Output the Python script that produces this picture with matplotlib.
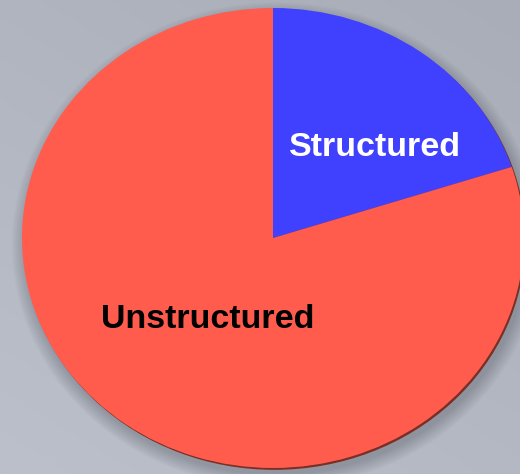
import numpy as np
import matplotlib
matplotlib.use("Agg")
import matplotlib.pyplot as plt
from matplotlib.patches import Ellipse

categories = ["Structured", "Unstructured"]
values = [20, 80]
colors = ["#4040FF", "#FF5C4E"]
text_colors = ["white", "black"]

W, H = 520, 474
cx, cy = 273, 238
rx, ry = 251, 230

fig = plt.figure(figsize=(W / 100, H / 100), dpi=100)
ax = fig.add_axes([0, 0, 1, 1])

# background gradient
yy, xx = np.mgrid[0:1:200j, 0:1:200j]
top = np.array([168, 173, 184]) / 255
bot = np.array([188, 192, 202]) / 255
t = np.clip(0.6 * yy + 0.4 * (1 - xx), 0, 1)[..., None]
bg = top * (1 - t) + bot * t
xl = (-cx / rx, (W - cx) / rx)
yl = ((cy - H) / ry, cy / ry)
ax.imshow(bg, extent=[xl[0], xl[1], yl[0], yl[1]], origin="upper", zorder=0, aspect="auto")

# soft shadow
for i in range(12):
    s = 1.0 + 0.005 * i
    ax.add_patch(Ellipse((0.015, -0.03), 2 * s, 2 * s, facecolor="#505560",
                         alpha=0.03, edgecolor="none", zorder=1))
# dark rim
ax.add_patch(Ellipse((0.006, -0.008), 2.0, 2.0, facecolor="#7a2e24", edgecolor="none", zorder=2))

wedges, texts = ax.pie(values, colors=colors, startangle=90, counterclock=False,
                       radius=1.0, center=(0, 0), labels=categories,
                       labeldistance=0.6,
                       wedgeprops=dict(edgecolor="none", zorder=3),
                       textprops=dict(fontsize=24.5, fontweight="bold",
                                      family=["Liberation Sans", "DejaVu Sans"]))
for w in wedges:
    w.set_zorder(3)
label_pos = [(375, 148), (208, 320)]
for txt, (px, py), c in zip(texts, label_pos, text_colors):
    txt.set_position(((px - cx) / rx, (cy - py) / ry))
    txt.set_ha("center")
    txt.set_va("center")
    txt.set_color(c)
    txt.set_zorder(5)

ax.set_aspect("auto")
ax.set_xlim(*xl)
ax.set_ylim(*yl)
ax.axis("off")
fig.savefig("out.png", dpi=100)
